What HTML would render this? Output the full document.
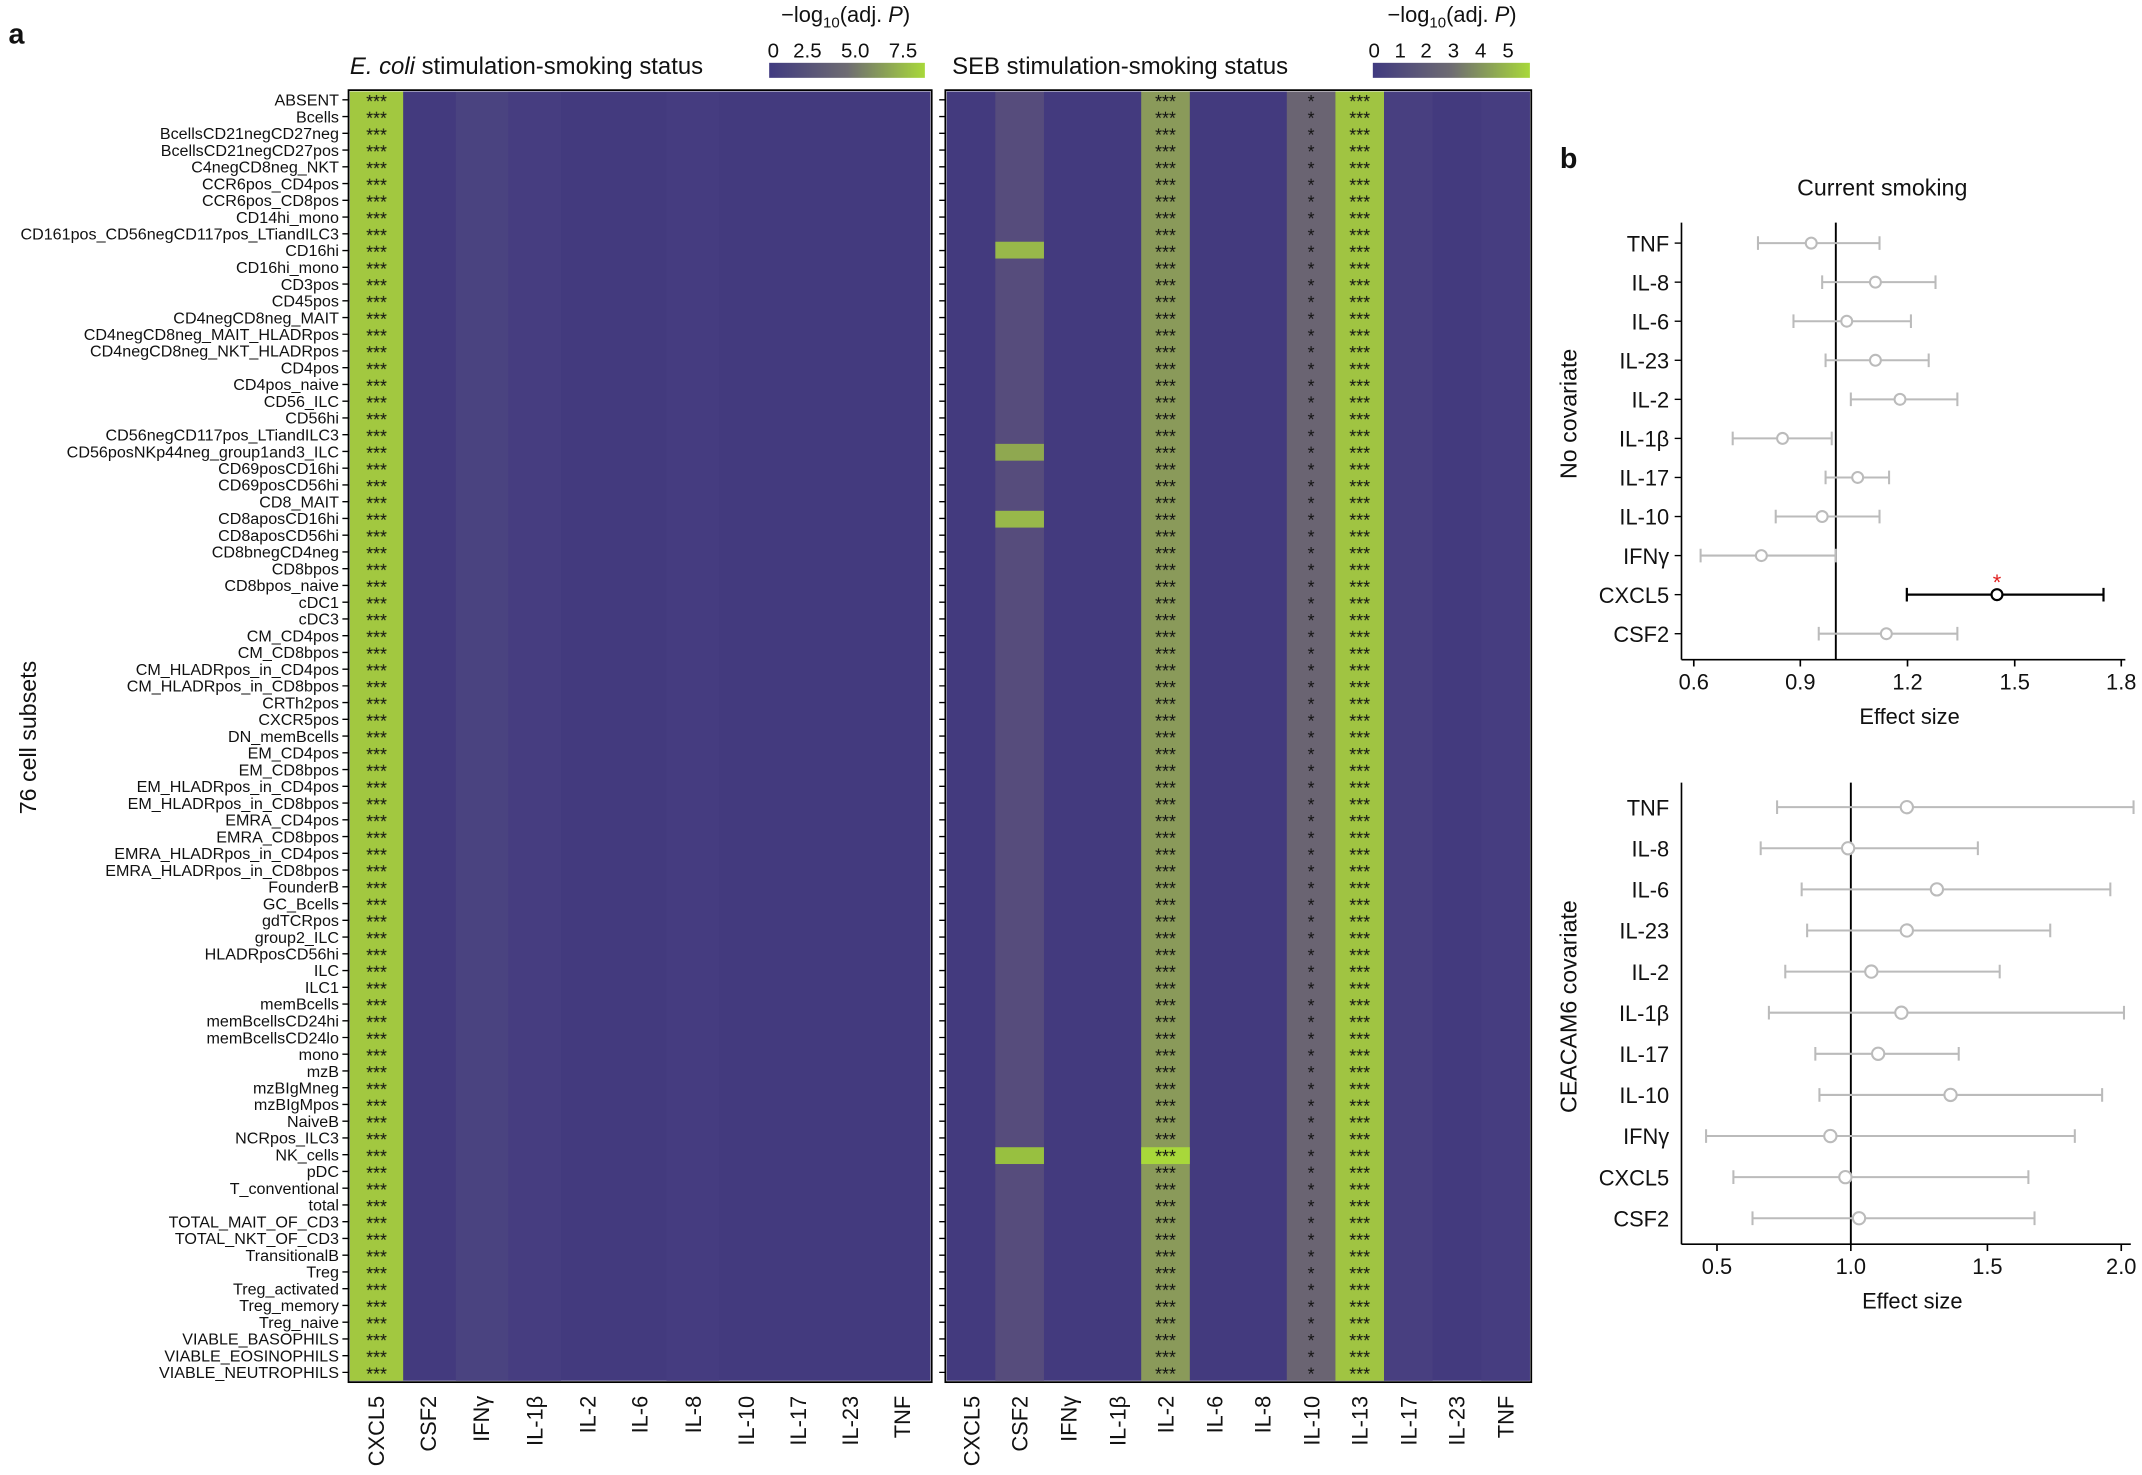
<!DOCTYPE html>
<html><head><meta charset="utf-8"><style>
html,body{margin:0;padding:0;background:#fff}
svg{display:block}
text{font-family:"Liberation Sans",sans-serif;fill:#111}
</style></head><body>
<svg width="2142" height="1475" viewBox="0 0 1568 1080" xmlns="http://www.w3.org/2000/svg">
<defs>
<pattern id="s3" x="256" y="67" width="39" height="12.26" patternUnits="userSpaceOnUse"><text x="19.5" y="12" font-size="13" text-anchor="middle" fill="#111">***</text></pattern>
<pattern id="s3r" x="977.6" y="67" width="35.6" height="12.26" patternUnits="userSpaceOnUse"><text x="17.8" y="12" font-size="13" text-anchor="middle" fill="#111">***</text></pattern>
<pattern id="s2r" x="835.4" y="67" width="35.6" height="12.26" patternUnits="userSpaceOnUse"><text x="17.8" y="12" font-size="13" text-anchor="middle" fill="#222">***</text></pattern>
<pattern id="s1r" x="942" y="67" width="35.6" height="12.26" patternUnits="userSpaceOnUse"><text x="17.8" y="12" font-size="13" text-anchor="middle" fill="#eee">*</text></pattern>
<linearGradient id="cb" x1="0" x2="1"><stop offset="0" stop-color="#403a80"/><stop offset="0.5" stop-color="#6e6c72"/><stop offset="1" stop-color="#a8d83a"/></linearGradient>
</defs>
<text x="6" y="32" font-size="21" font-weight="bold">a</text>
<text x="1142" y="123" font-size="21" font-weight="bold">b</text>

<text x="256" y="54" font-size="17.5"><tspan font-style="italic">E. coli</tspan> stimulation-smoking status</text>
<text x="697" y="54" font-size="17.5">SEB stimulation-smoking status</text>
<text x="619" y="16" font-size="16" text-anchor="middle">−log<tspan font-size="11" dy="4">10</tspan><tspan dy="-4">(adj. </tspan><tspan font-style="italic">P</tspan>)</text>
<text x="1063" y="16" font-size="16" text-anchor="middle">−log<tspan font-size="11" dy="4">10</tspan><tspan dy="-4">(adj. </tspan><tspan font-style="italic">P</tspan>)</text>
<text x="566" y="42" font-size="15" text-anchor="middle">0</text><text x="591" y="42" font-size="15" text-anchor="middle">2.5</text><text x="626" y="42" font-size="15" text-anchor="middle">5.0</text><text x="661" y="42" font-size="15" text-anchor="middle">7.5</text>
<rect x="563" y="46" width="114" height="11" fill="url(#cb)"/>
<text x="1006" y="42" font-size="15" text-anchor="middle">0</text><text x="1025" y="42" font-size="15" text-anchor="middle">1</text><text x="1044" y="42" font-size="15" text-anchor="middle">2</text><text x="1064" y="42" font-size="15" text-anchor="middle">3</text><text x="1084" y="42" font-size="15" text-anchor="middle">4</text><text x="1104" y="42" font-size="15" text-anchor="middle">5</text>
<rect x="1005" y="46" width="115" height="11" fill="url(#cb)"/>

<!-- left heatmap -->
<rect x="256" y="67" width="425" height="944" fill="#433a7e"/>
<rect x="256" y="67" width="39" height="944" fill="#a2c840"/>
<rect x="256" y="67" width="39" height="944" fill="url(#s3)"/>
<rect x="333.6" y="67" width="38.6" height="944" fill="#4a4380"/>
<rect x="372" y="67" width="38.6" height="944" fill="#463d80"/>
<rect x="487.8" y="67" width="38.6" height="944" fill="#453c80"/>
<rect x="255" y="66" width="427" height="946" fill="none" stroke="#000" stroke-width="1.3"/>
<line x1="253" y1="67" x2="253" y2="1011" stroke="#000" stroke-width="5" stroke-dasharray="1 11.26" stroke-dashoffset="-5.6"/>

<!-- right heatmap -->
<rect x="693" y="67" width="427" height="944" fill="#433a7e"/>
<rect x="728.6" y="67" width="35.6" height="944" fill="#564c7c"/>
<rect x="835.4" y="67" width="35.6" height="944" fill="#8a9a5a"/>
<rect x="942" y="67" width="35.6" height="944" fill="#6a6472"/>
<rect x="977.6" y="67" width="35.6" height="944" fill="#a0c442"/>
<rect x="1013.2" y="67" width="35.6" height="944" fill="#483f80"/>
<rect x="1084.4" y="67" width="35.6" height="944" fill="#463d80"/>
<rect x="728.6" y="840" width="35.6" height="12.3" fill="#98c040"/>
<rect x="835.4" y="840" width="35.6" height="12.3" fill="#a8d83a"/>
<rect x="728.6" y="374" width="35.6" height="12.3" fill="#98b84a"/>
<rect x="728.6" y="177" width="35.6" height="12.3" fill="#98b84a"/>
<rect x="728.6" y="325" width="35.6" height="12.3" fill="#8fa850"/>
<rect x="835.4" y="67" width="35.6" height="944" fill="url(#s2r)"/>
<rect x="942" y="67" width="35.6" height="944" fill="url(#s1r)"/>
<rect x="977.6" y="67" width="35.6" height="944" fill="url(#s3r)"/>
<rect x="692" y="66" width="429" height="946" fill="none" stroke="#000" stroke-width="1.3"/>
<line x1="690" y1="67" x2="690" y2="1011" stroke="#000" stroke-width="5" stroke-dasharray="1 11.26" stroke-dashoffset="-5.6"/>

<g font-size="11.8" text-anchor="end">
<text x="248" y="77.3">ABSENT</text>
<text x="248" y="89.6">Bcells</text>
<text x="248" y="101.8">BcellsCD21negCD27neg</text>
<text x="248" y="114.1">BcellsCD21negCD27pos</text>
<text x="248" y="126.3">C4negCD8neg_NKT</text>
<text x="248" y="138.6">CCR6pos_CD4pos</text>
<text x="248" y="150.9">CCR6pos_CD8pos</text>
<text x="248" y="163.1">CD14hi_mono</text>
<text x="248" y="175.4">CD161pos_CD56negCD117pos_LTiandILC3</text>
<text x="248" y="187.6">CD16hi</text>
<text x="248" y="199.9">CD16hi_mono</text>
<text x="248" y="212.2">CD3pos</text>
<text x="248" y="224.4">CD45pos</text>
<text x="248" y="236.7">CD4negCD8neg_MAIT</text>
<text x="248" y="248.9">CD4negCD8neg_MAIT_HLADRpos</text>
<text x="248" y="261.2">CD4negCD8neg_NKT_HLADRpos</text>
<text x="248" y="273.5">CD4pos</text>
<text x="248" y="285.7">CD4pos_naive</text>
<text x="248" y="298">CD56_ILC</text>
<text x="248" y="310.2">CD56hi</text>
<text x="248" y="322.5">CD56negCD117pos_LTiandILC3</text>
<text x="248" y="334.8">CD56posNKp44neg_group1and3_ILC</text>
<text x="248" y="347">CD69posCD16hi</text>
<text x="248" y="359.3">CD69posCD56hi</text>
<text x="248" y="371.5">CD8_MAIT</text>
<text x="248" y="383.8">CD8aposCD16hi</text>
<text x="248" y="396.1">CD8aposCD56hi</text>
<text x="248" y="408.3">CD8bnegCD4neg</text>
<text x="248" y="420.6">CD8bpos</text>
<text x="248" y="432.8">CD8bpos_naive</text>
<text x="248" y="445.1">cDC1</text>
<text x="248" y="457.4">cDC3</text>
<text x="248" y="469.6">CM_CD4pos</text>
<text x="248" y="481.9">CM_CD8bpos</text>
<text x="248" y="494.1">CM_HLADRpos_in_CD4pos</text>
<text x="248" y="506.4">CM_HLADRpos_in_CD8bpos</text>
<text x="248" y="518.7">CRTh2pos</text>
<text x="248" y="530.9">CXCR5pos</text>
<text x="248" y="543.2">DN_memBcells</text>
<text x="248" y="555.4">EM_CD4pos</text>
<text x="248" y="567.7">EM_CD8bpos</text>
<text x="248" y="580">EM_HLADRpos_in_CD4pos</text>
<text x="248" y="592.2">EM_HLADRpos_in_CD8bpos</text>
<text x="248" y="604.5">EMRA_CD4pos</text>
<text x="248" y="616.7">EMRA_CD8bpos</text>
<text x="248" y="629">EMRA_HLADRpos_in_CD4pos</text>
<text x="248" y="641.3">EMRA_HLADRpos_in_CD8bpos</text>
<text x="248" y="653.5">FounderB</text>
<text x="248" y="665.8">GC_Bcells</text>
<text x="248" y="678">gdTCRpos</text>
<text x="248" y="690.3">group2_ILC</text>
<text x="248" y="702.6">HLADRposCD56hi</text>
<text x="248" y="714.8">ILC</text>
<text x="248" y="727.1">ILC1</text>
<text x="248" y="739.3">memBcells</text>
<text x="248" y="751.6">memBcellsCD24hi</text>
<text x="248" y="763.9">memBcellsCD24lo</text>
<text x="248" y="776.1">mono</text>
<text x="248" y="788.4">mzB</text>
<text x="248" y="800.6">mzBIgMneg</text>
<text x="248" y="812.9">mzBIgMpos</text>
<text x="248" y="825.2">NaiveB</text>
<text x="248" y="837.4">NCRpos_ILC3</text>
<text x="248" y="849.7">NK_cells</text>
<text x="248" y="861.9">pDC</text>
<text x="248" y="874.2">T_conventional</text>
<text x="248" y="886.5">total</text>
<text x="248" y="898.7">TOTAL_MAIT_OF_CD3</text>
<text x="248" y="911">TOTAL_NKT_OF_CD3</text>
<text x="248" y="923.2">TransitionalB</text>
<text x="248" y="935.5">Treg</text>
<text x="248" y="947.8">Treg_activated</text>
<text x="248" y="960">Treg_memory</text>
<text x="248" y="972.3">Treg_naive</text>
<text x="248" y="984.5">VIABLE_BASOPHILS</text>
<text x="248" y="996.8">VIABLE_EOSINOPHILS</text>
<text x="248" y="1009.1">VIABLE_NEUTROPHILS</text>
</g>
<text transform="translate(26,540) rotate(-90)" font-size="17" text-anchor="middle">76 cell subsets</text>

<g font-size="16" text-anchor="end">
<text transform="translate(281,1022) rotate(-90)">CXCL5</text>
<text transform="translate(319,1022) rotate(-90)">CSF2</text>
<text transform="translate(358,1022) rotate(-90)">IFNγ</text>
<text transform="translate(397,1022) rotate(-90)">IL-1β</text>
<text transform="translate(436,1022) rotate(-90)">IL-2</text>
<text transform="translate(474,1022) rotate(-90)">IL-6</text>
<text transform="translate(513,1022) rotate(-90)">IL-8</text>
<text transform="translate(552,1022) rotate(-90)">IL-10</text>
<text transform="translate(590,1022) rotate(-90)">IL-17</text>
<text transform="translate(628,1022) rotate(-90)">IL-23</text>
<text transform="translate(666,1022) rotate(-90)">TNF</text>
<text transform="translate(717,1022) rotate(-90)">CXCL5</text>
<text transform="translate(752,1022) rotate(-90)">CSF2</text>
<text transform="translate(788,1022) rotate(-90)">IFNγ</text>
<text transform="translate(824,1022) rotate(-90)">IL-1β</text>
<text transform="translate(859,1022) rotate(-90)">IL-2</text>
<text transform="translate(895,1022) rotate(-90)">IL-6</text>
<text transform="translate(930,1022) rotate(-90)">IL-8</text>
<text transform="translate(966,1022) rotate(-90)">IL-10</text>
<text transform="translate(1001,1022) rotate(-90)">IL-13</text>
<text transform="translate(1037,1022) rotate(-90)">IL-17</text>
<text transform="translate(1072,1022) rotate(-90)">IL-23</text>
<text transform="translate(1108,1022) rotate(-90)">TNF</text>
</g>

<!-- panel b top -->
<text x="1378" y="143" font-size="17" text-anchor="middle">Current smoking</text>
<text transform="translate(1154,303) rotate(-90)" font-size="17" text-anchor="middle">No covariate</text>
<line x1="1231" y1="163" x2="1231" y2="483" stroke="#000" stroke-width="1.2"/>
<line x1="1231" y1="483" x2="1556" y2="483" stroke="#000" stroke-width="1.2"/>
<line x1="1344" y1="163" x2="1344" y2="483" stroke="#000" stroke-width="1.4"/>
<g stroke="#000" stroke-width="1.2">
<line x1="1240" y1="483" x2="1240" y2="488"/><line x1="1318" y1="483" x2="1318" y2="488"/><line x1="1396.5" y1="483" x2="1396.5" y2="488"/><line x1="1475" y1="483" x2="1475" y2="488"/><line x1="1553" y1="483" x2="1553" y2="488"/>
</g>
<g font-size="16" text-anchor="middle">
<text x="1240" y="505">0.6</text><text x="1318" y="505">0.9</text><text x="1396.5" y="505">1.2</text><text x="1475" y="505">1.5</text><text x="1553" y="505">1.8</text>
</g>
<text x="1398" y="530" font-size="16" text-anchor="middle">Effect size</text>
<g font-size="16" text-anchor="end">
<text x="1222" y="184">TNF</text><text x="1222" y="212.6">IL-8</text><text x="1222" y="241.2">IL-6</text><text x="1222" y="269.8">IL-23</text><text x="1222" y="298.4">IL-2</text><text x="1222" y="327">IL-1β</text><text x="1222" y="355.6">IL-17</text><text x="1222" y="384.2">IL-10</text><text x="1222" y="412.8">IFNγ</text><text x="1222" y="441.4">CXCL5</text><text x="1222" y="470">CSF2</text>
</g>
<g stroke="#000" stroke-width="1"><line x1="1226" y1="178" x2="1231" y2="178"/><line x1="1226" y1="206.6" x2="1231" y2="206.6"/><line x1="1226" y1="235.2" x2="1231" y2="235.2"/><line x1="1226" y1="263.8" x2="1231" y2="263.8"/><line x1="1226" y1="292.4" x2="1231" y2="292.4"/><line x1="1226" y1="321" x2="1231" y2="321"/><line x1="1226" y1="349.6" x2="1231" y2="349.6"/><line x1="1226" y1="378.2" x2="1231" y2="378.2"/><line x1="1226" y1="406.8" x2="1231" y2="406.8"/><line x1="1226" y1="435.4" x2="1231" y2="435.4"/><line x1="1226" y1="464" x2="1231" y2="464"/></g>
<g stroke="#bbb" stroke-width="1.5" fill="#fff">
<path d="M1287 178H1376M1287 173V183M1376 173V183"/><circle cx="1326" cy="178" r="4"/>
<path d="M1334 206.6H1417M1334 201.6V211.6M1417 201.6V211.6"/><circle cx="1373" cy="206.6" r="4"/>
<path d="M1313 235.2H1399M1313 230.2V240.2M1399 230.2V240.2"/><circle cx="1352" cy="235.2" r="4"/>
<path d="M1336.5 263.8H1412M1336.5 258.8V268.8M1412 258.8V268.8"/><circle cx="1373" cy="263.8" r="4"/>
<path d="M1355 292.4H1433M1355 287.4V297.4M1433 287.4V297.4"/><circle cx="1391" cy="292.4" r="4"/>
<path d="M1268.5 321H1341M1268.5 316V326M1341 316V326"/><circle cx="1305" cy="321" r="4"/>
<path d="M1336.5 349.6H1383M1336.5 344.6V354.6M1383 344.6V354.6"/><circle cx="1360" cy="349.6" r="4"/>
<path d="M1300 378.2H1376M1300 373.2V383.2M1376 373.2V383.2"/><circle cx="1334" cy="378.2" r="4"/>
<path d="M1245 406.8H1344M1245 401.8V411.8M1344 401.8V411.8"/><circle cx="1289.5" cy="406.8" r="4"/>
<path d="M1331.5 464H1433M1331.5 459V469M1433 459V469"/><circle cx="1381" cy="464" r="4"/>
</g>
<path d="M1396 435.4H1540M1396 430.4V440.4M1540 430.4V440.4" stroke="#000" stroke-width="1.6"/>
<circle cx="1462" cy="435.4" r="4" fill="#fff" stroke="#000" stroke-width="1.6"/>
<text x="1462" y="432" font-size="16" style="fill:#e02020" text-anchor="middle">*</text>

<!-- panel b bottom -->
<text transform="translate(1154,737) rotate(-90)" font-size="17" text-anchor="middle">CEACAM6 covariate</text>
<line x1="1231" y1="573" x2="1231" y2="911" stroke="#000" stroke-width="1.2"/>
<line x1="1231" y1="911" x2="1560" y2="911" stroke="#000" stroke-width="1.2"/>
<line x1="1355" y1="573" x2="1355" y2="911" stroke="#000" stroke-width="1.4"/>
<g stroke="#000" stroke-width="1.2">
<line x1="1257" y1="911" x2="1257" y2="916"/><line x1="1355" y1="911" x2="1355" y2="916"/><line x1="1455" y1="911" x2="1455" y2="916"/><line x1="1553" y1="911" x2="1553" y2="916"/>
</g>
<g font-size="16" text-anchor="middle">
<text x="1257" y="933">0.5</text><text x="1355" y="933">1.0</text><text x="1455" y="933">1.5</text><text x="1553" y="933">2.0</text>
</g>
<text x="1400" y="958" font-size="16" text-anchor="middle">Effect size</text>
<g font-size="16" text-anchor="end">
<text x="1222" y="597">TNF</text><text x="1222" y="627.1">IL-8</text><text x="1222" y="657.2">IL-6</text><text x="1222" y="687.3">IL-23</text><text x="1222" y="717.4">IL-2</text><text x="1222" y="747.5">IL-1β</text><text x="1222" y="777.6">IL-17</text><text x="1222" y="807.7">IL-10</text><text x="1222" y="837.8">IFNγ</text><text x="1222" y="867.9">CXCL5</text><text x="1222" y="898">CSF2</text>
</g>
<g stroke="#bbb" stroke-width="1.5" fill="#fff">
<path d="M1301 591H1562M1301 586V596M1562 586V596"/><circle cx="1396" cy="591" r="4.5"/>
<path d="M1289 621.1H1448M1289 616.1V626.1M1448 616.1V626.1"/><circle cx="1353" cy="621.1" r="4.5"/>
<path d="M1319 651.2H1545M1319 646.2V656.2M1545 646.2V656.2"/><circle cx="1418" cy="651.2" r="4.5"/>
<path d="M1323 681.3H1501M1323 676.3V686.3M1501 676.3V686.3"/><circle cx="1396" cy="681.3" r="4.5"/>
<path d="M1307 711.4H1464M1307 706.4V716.4M1464 706.4V716.4"/><circle cx="1370" cy="711.4" r="4.5"/>
<path d="M1295 741.5H1555M1295 736.5V746.5M1555 736.5V746.5"/><circle cx="1392" cy="741.5" r="4.5"/>
<path d="M1329 771.6H1434M1329 766.6V776.6M1434 766.6V776.6"/><circle cx="1375" cy="771.6" r="4.5"/>
<path d="M1332 801.7H1539M1332 796.7V806.7M1539 796.7V806.7"/><circle cx="1428" cy="801.7" r="4.5"/>
<path d="M1249 831.8H1519M1249 826.8V836.8M1519 826.8V836.8"/><circle cx="1340" cy="831.8" r="4.5"/>
<path d="M1269 861.9H1485M1269 856.9V866.9M1485 856.9V866.9"/><circle cx="1351" cy="861.9" r="4.5"/>
<path d="M1283 892H1489.5M1283 887V897M1489.5 887V897"/><circle cx="1361" cy="892" r="4.5"/>
</g>
</svg>
</body></html>
